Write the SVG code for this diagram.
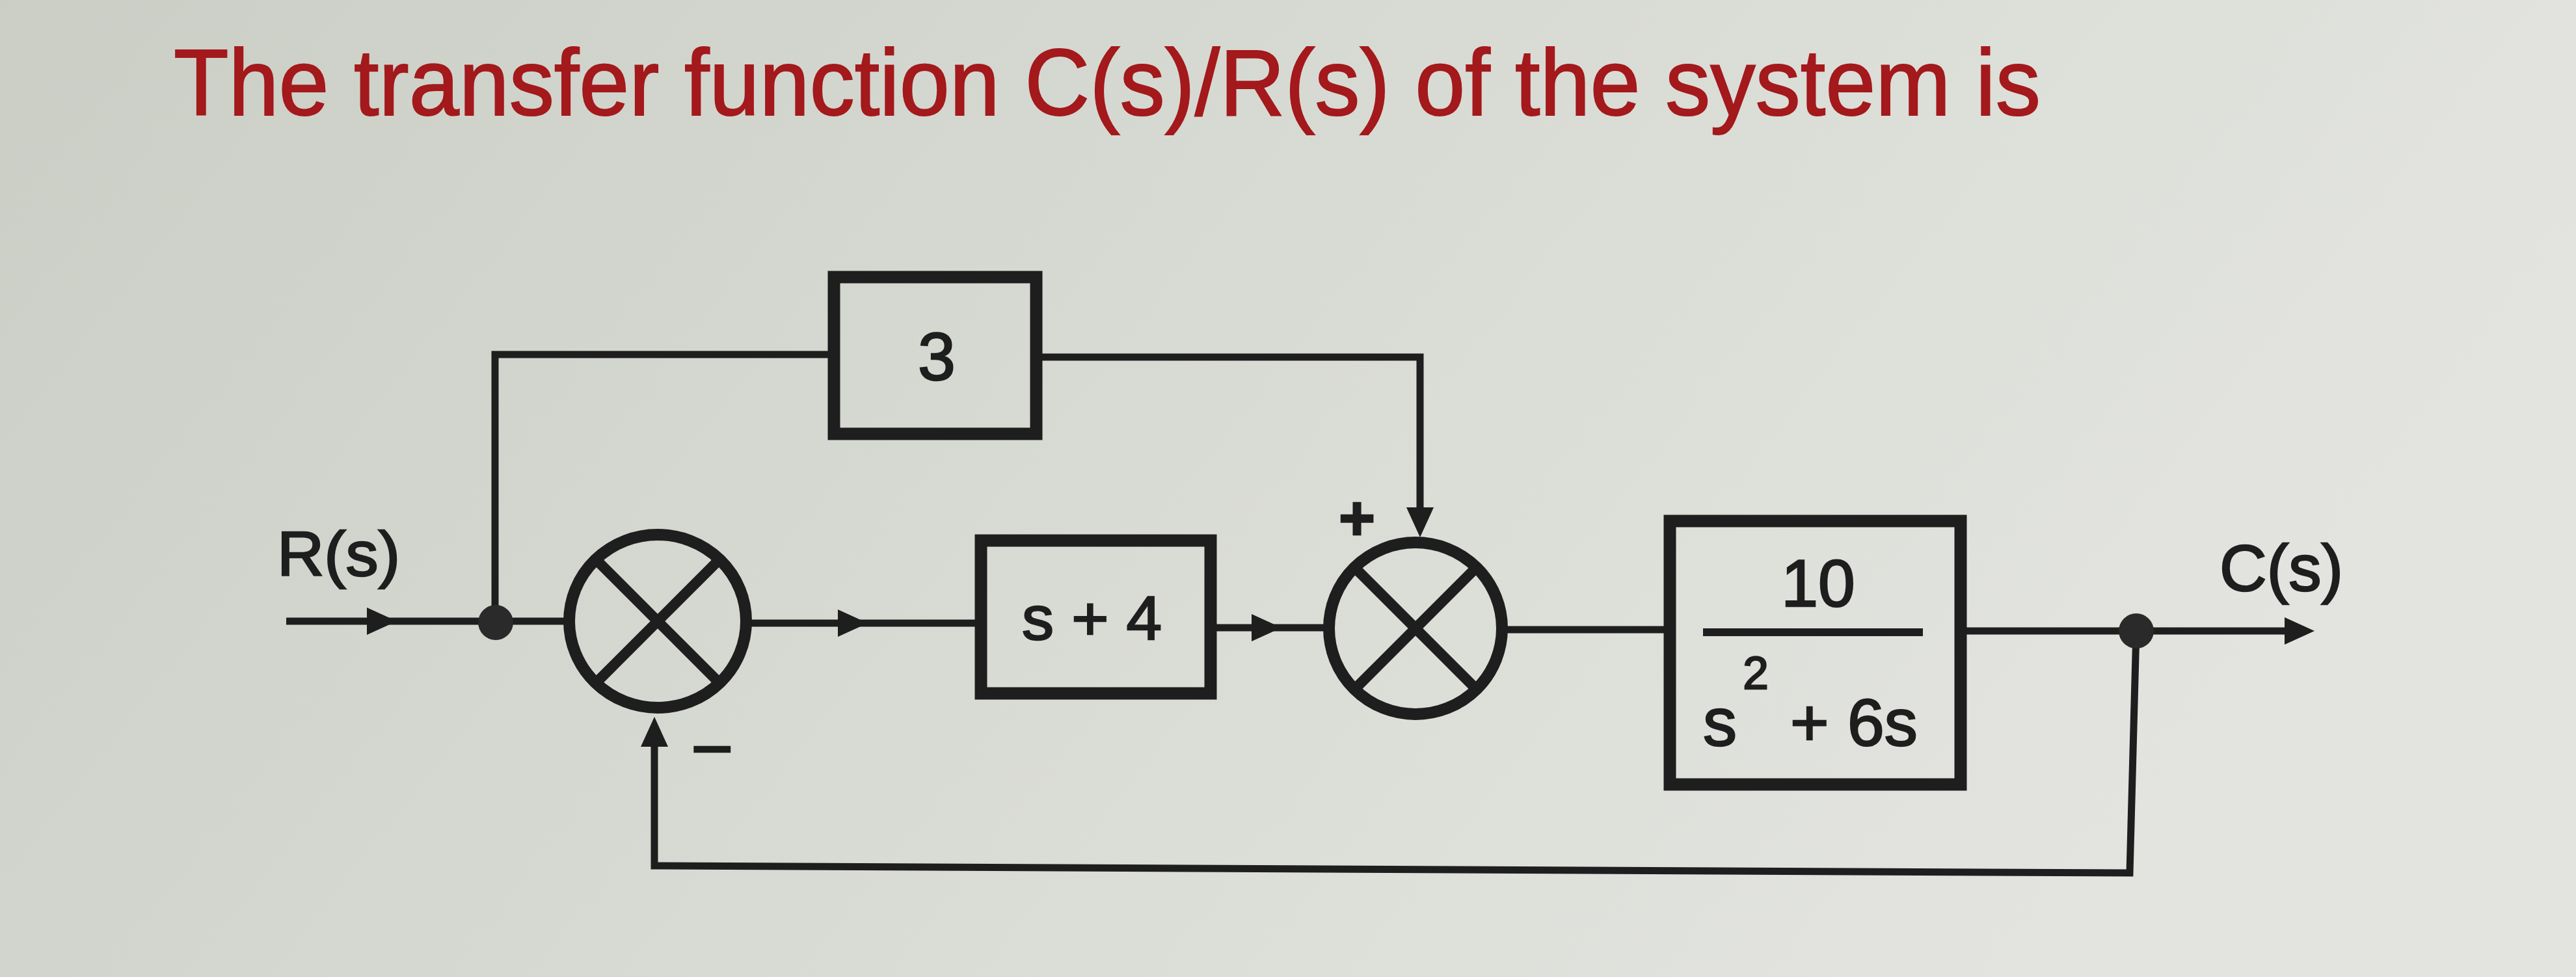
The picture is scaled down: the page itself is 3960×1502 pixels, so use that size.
<svg xmlns="http://www.w3.org/2000/svg" xmlns:xlink="http://www.w3.org/1999/xlink" width="3960" height="1502" viewBox="0 0 3960 1502">
  <defs>
    <linearGradient id="bg" x1="0" y1="0" x2="1" y2="0.3">
      <stop offset="0" stop-color="#cbcec5"/>
      <stop offset="0.45" stop-color="#d6d9d1"/>
      <stop offset="1" stop-color="#e3e4e0"/>
    </linearGradient>
    <path id="arrowR" d="M0,0 L-46,-21 L-46,21 Z"/>
    <style>
      .ln { fill: none; stroke: #1e1e1e; stroke-width: 11; stroke-linejoin: miter; }
      .box { fill: none; stroke: #1e1e1e; stroke-width: 19; }
      .sum { fill: none; stroke: #1e1e1e; stroke-width: 18; }
      .xl { stroke: #1e1e1e; stroke-width: 16; }
      .ah { fill: #1e1e1e; }
      .dot { fill: #2a2a2a; }
      .lbl { font-family: "Liberation Sans", Arial, sans-serif; fill: #1e1e1e; stroke: #1e1e1e; stroke-width: 2.5; }
      .title { font-family: "Liberation Sans", Arial, sans-serif; fill: #a3191c; stroke: #a3191c; stroke-width: 2; font-size: 144px; }
    </style>
  </defs>

  <rect x="0" y="0" width="3960" height="1502" fill="url(#bg)"/>

  <text class="title" x="267" y="177" textLength="2870" lengthAdjust="spacingAndGlyphs">The transfer function C(s)/R(s) of the system is</text>

  <g id="connectors">
    <!-- input -->
    <line class="ln" x1="440" y1="955" x2="870" y2="955"/>
    <use href="#arrowR" class="ah" x="610" y="955"/>
    <!-- feedforward via 3 -->
    <polyline class="ln" points="761,957 761,545 1274,545"/>
    <polyline class="ln" points="1601,549 2183,549 2183,800"/>
    <use href="#arrowR" class="ah" transform="translate(2183,826) rotate(90)"/>
    <!-- junction1 to s+4 -->
    <line class="ln" x1="1150" y1="958" x2="1500" y2="958"/>
    <use href="#arrowR" class="ah" x="1334" y="958"/>
    <!-- s+4 to junction2 -->
    <line class="ln" x1="1869" y1="965" x2="2036" y2="965"/>
    <use href="#arrowR" class="ah" x="1970" y="965"/>
    <!-- junction2 to G -->
    <line class="ln" x1="2316" y1="968" x2="2558" y2="968"/>
    <!-- output -->
    <line class="ln" x1="3023" y1="970" x2="3520" y2="970"/>
    <use href="#arrowR" class="ah" x="3558" y="970"/>
    <!-- feedback -->
    <polyline class="ln" points="3284,970 3274,1342 1006,1331 1006,1130"/>
    <use href="#arrowR" class="ah" transform="translate(1006,1102) rotate(-90)"/>
    <circle class="dot" cx="762" cy="957" r="27"/>
    <circle class="dot" cx="3284" cy="970" r="27"/>
  </g>

  <g id="label-R">
    <text class="lbl" x="426" y="885" font-size="96" textLength="189" lengthAdjust="spacingAndGlyphs">R(s)</text>
  </g>

  <g id="label-C">
    <text class="lbl" x="3412" y="908" font-size="100" textLength="190" lengthAdjust="spacingAndGlyphs">C(s)</text>
  </g>

  <g id="sum1">
    <ellipse class="sum" cx="1011" cy="955" rx="136" ry="133"/>
    <line class="xl" x1="921" y1="865" x2="1101" y2="1045"/>
    <line class="xl" x1="1101" y1="865" x2="921" y2="1045"/>
    <text class="lbl" x="1062" y="1189" font-size="112">−</text>
  </g>

  <g id="sum2">
    <ellipse class="sum" cx="2176" cy="966" rx="133" ry="132"/>
    <line class="xl" x1="2087" y1="877" x2="2265" y2="1055"/>
    <line class="xl" x1="2265" y1="877" x2="2087" y2="1055"/>
    <text class="lbl" x="2086" y="830" font-size="96" font-weight="bold" text-anchor="middle">+</text>
  </g>

  <g id="block-3">
    <rect class="box" x="1282" y="426" width="311" height="241"/>
    <text class="lbl" x="1440" y="584" font-size="104" text-anchor="middle">3</text>
  </g>

  <g id="block-s4">
    <rect class="box" x="1508" y="831" width="353" height="235"/>
    <text class="lbl" x="1571" y="983" font-size="94" textLength="215" lengthAdjust="spacingAndGlyphs">s + 4</text>
  </g>

  <g id="block-G">
    <rect class="box" x="2567" y="801" width="447" height="405" stroke-width="20"/>
    <text class="lbl" x="2795" y="932" font-size="102" text-anchor="middle">10</text>
    <line x1="2618" y1="972" x2="2956" y2="972" stroke="#1e1e1e" stroke-width="12"/>
    <text class="lbl" x="2699" y="1059" font-size="71" text-anchor="middle">2</text>
    <text class="lbl" x="2618" y="1146" font-size="104">s</text>
    <text class="lbl" x="2752" y="1146" font-size="102">+ 6s</text>
  </g>
</svg>
